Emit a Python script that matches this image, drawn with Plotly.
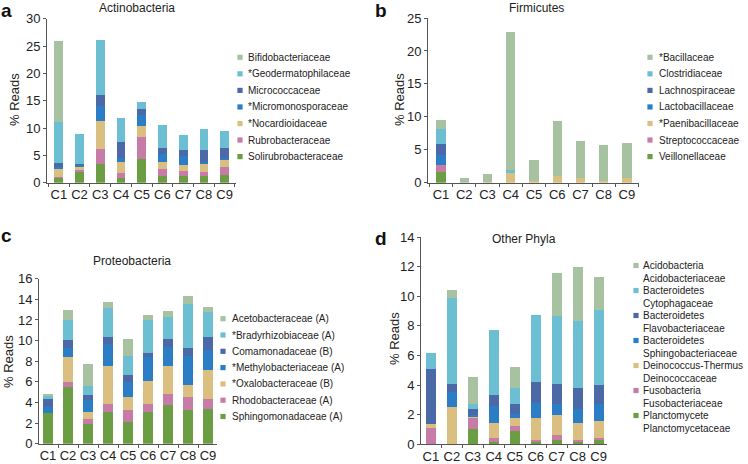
import plotly.graph_objects as go

W, H = 748, 464
categories = ["C1", "C2", "C3", "C4", "C5", "C6", "C7", "C8", "C9"]

# Stack order (bottom -> top) colours shared by all panels
series_colors = ["#6b9e42", "#c77ba7", "#dbbf80", "#2b7dc6", "#4a69a6", "#6cbfd3", "#a7c2a0"]

# ---- Panel a: Actinobacteria (segment heights, % reads)
actino_names = ["Solirubrobacteraceae", "Rubrobacteraceae", "*Nocardioidaceae",
                "*Micromonosporaceae", "Micrococcaceae", "*Geodermatophilaceae",
                "Bifidobacteriaceae"]
actino_solirubro = [1.0, 2.0, 3.4, 0.8, 4.4, 1.15, 1.15, 1.25, 1.35]
actino_rubro = [0.1, 0.4, 2.8, 1.0, 3.9, 1.35, 0.95, 0.75, 1.55]
actino_nocardioid = [1.6, 0.7, 5.0, 2.0, 2.1, 1.3, 1.1, 1.4, 1.4]
actino_micromono = [0.2, 0.2, 2.8, 0.8, 1.9, 1.4, 1.6, 0.4, 0.3]
actino_micrococc = [0.7, 0.2, 2.1, 2.8, 1.1, 1.2, 1.1, 2.2, 1.8]
actino_geoderm = [7.5, 5.5, 10.0, 4.5, 1.3, 4.2, 2.9, 3.9, 3.05]
actino_bifido = [14.9, 0, 0, 0, 0, 0, 0, 0, 0]

# ---- Panel b: Firmicutes
firm_names = ["Veillonellaceae", "Streptococcaceae", "*Paenibacillaceae",
              "Lactobacillaceae", "Lachnospiraceae", "Clostridiaceae", "*Bacillaceae"]
firm_veillonell = [1.65, 0, 0, 0, 0, 0, 0, 0, 0]
firm_strepto = [1.0, 0, 0, 0, 0, 0, 0, 0, 0]
firm_paenibac = [0, 0, 0.05, 1.4, 0.2, 1.0, 0.7, 0.3, 0.75]
firm_lactobac = [1.55, 0, 0, 0, 0, 0, 0, 0, 0]
firm_lachno = [1.6, 0, 0, 0, 0, 0, 0, 0, 0]
firm_clostri = [2.3, 0, 0, 0.5, 0, 0, 0, 0, 0]
firm_bacillac = [1.35, 0.7, 1.3, 20.9, 3.3, 8.4, 5.7, 5.35, 5.3]

# ---- Panel c: Proteobacteria
proteo_names = ["Sphingomonadaceae (A)", "Rhodobacteraceae (A)", "*Oxalobacteraceae (B)",
                "*Methylobacteriaceae (A)", "Comamonadaceae (B)", "*Bradyrhizobiaceae (A)",
                "Acetobacteraceae (A)"]
proteo_sphingo = [3.0, 5.5, 1.9, 3.05, 2.1, 3.1, 3.75, 3.3, 3.35]
proteo_rhodo = [0, 0.45, 0.5, 0.8, 1.2, 0.75, 1.1, 1.2, 1.0]
proteo_oxalo = [0, 2.5, 0.7, 3.7, 1.25, 2.2, 2.7, 1.2, 2.8]
proteo_methylo = [0.6, 0.85, 1.1, 2.1, 1.45, 2.35, 1.8, 2.85, 1.95]
proteo_comamon = [0.7, 0.8, 0.5, 0.7, 0.7, 0.4, 0.8, 0.75, 1.2]
proteo_bradyrh = [0.4, 1.9, 0.9, 2.85, 1.8, 3.15, 2.15, 4.2, 2.5]
proteo_acetobac = [0.15, 0.95, 2.15, 0.5, 1.65, 0.55, 0.55, 0.85, 0.5]

# ---- Panel d: Other Phyla
other_names = [["Planctomycete", "Planctomycetaceae"], ["Fusobacteria", "Fusobacteriaceae"],
               ["Deinococcus-Thermus", "Deinococcaceae"], ["Bacteroidetes", "Sphingobacteriaceae"],
               ["Bacteroidetes", "Flavobacteriaceae"], ["Bacteroidetes", "Cytophagaceae"],
               ["Acidobacteria", "Acidobacteriaceae"]]
other_plancto = [0, 0, 1.0, 0.15, 0.9, 0.15, 0.3, 0.15, 0.3]
other_fuso = [1.1, 0.05, 0.75, 0.25, 0.35, 0.15, 0.3, 0.15, 0.1]
other_deino = [0.3, 2.5, 0.15, 1.05, 0.55, 1.45, 1.35, 1.15, 1.15]
other_sphingobact = [0, 0.95, 0.1, 1.15, 0.25, 1.05, 0.75, 0.95, 1.15]
other_flavo = [3.7, 0.55, 0.4, 0.7, 0.7, 1.4, 1.4, 1.4, 1.3]
other_cytophag = [1.1, 5.8, 0.35, 4.4, 1.05, 4.5, 4.55, 4.55, 5.1]
other_acido = [0, 0.6, 1.8, 0, 1.4, 0, 2.95, 3.65, 2.2]

panels = [
    dict(ax="", title="Actinobacteria", letter="a", names=actino_names,
         series=[actino_solirubro, actino_rubro, actino_nocardioid, actino_micromono,
                 actino_micrococc, actino_geoderm, actino_bifido],
         yrange=[0, 30], dtick=5, xrange=[-0.57, 8.55], barw=0.42,
         xdom=(47, 236), ydom=(182.7, 18.7)),
    dict(ax="2", title="Firmicutes", letter="b", names=firm_names,
         series=[firm_veillonell, firm_strepto, firm_paenibac, firm_lactobac,
                 firm_lachno, firm_clostri, firm_bacillac],
         yrange=[0, 25], dtick=5, xrange=[-0.56, 8.52], barw=0.40,
         xdom=(428, 639), ydom=(182.7, 18.0)),
    dict(ax="3", title="Proteobacteria", letter="c", names=proteo_names,
         series=[proteo_sphingo, proteo_rhodo, proteo_oxalo, proteo_methylo,
                 proteo_comamon, proteo_bradyrh, proteo_acetobac],
         yrange=[0, 16], dtick=2, xrange=[-0.45, 8.45], barw=0.46,
         xdom=(39, 217), ydom=(443.7, 278.7)),
    dict(ax="4", title="Other Phyla", letter="d", names=other_names,
         series=[other_plancto, other_fuso, other_deino, other_sphingobact,
                 other_flavo, other_cytophag, other_acido],
         yrange=[0, 14], dtick=2, xrange=[-0.47, 8.4], barw=0.47,
         xdom=(421, 607), ydom=(444.3, 237.0)),
]


def px(x):
    return x / W


def py(y):
    return 1 - y / H


FONT = "Liberation Sans, Arial, sans-serif"
TXT = "#222222"
AXC = "#555555"

fig = go.Figure()
layout = dict(width=W, height=H, margin=dict(l=0, r=0, t=0, b=0),
              paper_bgcolor="white", plot_bgcolor="white", barmode="stack",
              showlegend=False, font=dict(family=FONT, color=TXT))
annotations = []
shapes = []

for p in panels:
    xa, ya = "x" + p["ax"], "y" + p["ax"]
    for name, vals, col in zip(p["names"], p["series"], series_colors):
        label = name if isinstance(name, str) else " ".join(name)
        fig.add_trace(go.Bar(x=categories, y=vals, name=label, xaxis=xa, yaxis=ya,
                             marker=dict(color=col, line=dict(width=0)),
                             width=p["barw"], hovertemplate="%{x}: %{y}<extra>" + label + "</extra>"))
    layout["xaxis" + p["ax"]] = dict(
        domain=[px(p["xdom"][0]), px(p["xdom"][1])], anchor=ya, range=p["xrange"],
        showline=True, linecolor=AXC, linewidth=1, ticks="outside", ticklen=3,
        tickcolor=AXC, tickson="boundaries", showgrid=False, zeroline=False,
        tickangle=0, automargin=False,
        tickfont=dict(size=13, color=TXT, family=FONT), fixedrange=True)
    layout["yaxis" + p["ax"]] = dict(
        domain=[py(p["ydom"][0]), py(p["ydom"][1])], anchor=xa, range=p["yrange"],
        dtick=p["dtick"], showline=True, linecolor=AXC, linewidth=1, ticks="outside",
        ticklen=3, tickcolor=AXC, showgrid=False, zeroline=False, automargin=False,
        tickfont=dict(size=13, color=TXT, family=FONT), fixedrange=True)

# Titles, letters, y-axis titles
for text, x, y in [("Actinobacteria", 137, 8), ("Firmicutes", 536, 8),
                   ("Proteobacteria", 132, 261), ("Other Phyla", 524, 239)]:
    annotations.append(dict(text=text, x=px(x), y=py(y), xref="paper", yref="paper",
                            showarrow=False, xanchor="center", yanchor="middle",
                            font=dict(size=12, color=TXT)))
for text, x, y in [("a", 7, 10), ("b", 381, 10), ("c", 6, 236), ("d", 381, 238)]:
    annotations.append(dict(text="<b>" + text + "</b>", x=px(x), y=py(y), xref="paper",
                            yref="paper", showarrow=False, xanchor="center",
                            yanchor="middle", font=dict(size=19, color="#111111")))
for x, y in [(15, 100), (400, 100), (8, 362), (394, 339)]:
    annotations.append(dict(text="% Reads", x=px(x), y=py(y), xref="paper", yref="paper",
                            showarrow=False, textangle=-90, xanchor="center",
                            yanchor="middle", font=dict(size=13, color=TXT)))

# Legends (top-to-bottom = reverse of stack order)
legend_pos = [
    dict(mx=240, tx=246, y0=57.3, dy=16.55, ldy=0),
    dict(mx=650, tx=657, y0=57.3, dy=16.55, ldy=0),
    dict(mx=223, tx=230, y0=318.7, dy=16.3, ldy=0),
    dict(mx=636, tx=641, y0=265.5, dy=25.0, ldy=12.5),
]
for p, lp in zip(panels, legend_pos):
    items = list(zip(p["names"], series_colors))[::-1]
    for i, (name, col) in enumerate(items):
        yc = lp["y0"] + i * lp["dy"]
        s = 2.6
        shapes.append(dict(type="rect", xref="paper", yref="paper",
                           x0=px(lp["mx"] - s), x1=px(lp["mx"] + s),
                           y0=py(yc + s), y1=py(yc - s), fillcolor=col,
                           line=dict(width=0)))
        lines = [name] if isinstance(name, str) else name
        for j, ln in enumerate(lines):
            annotations.append(dict(text=ln, x=px(lp["tx"]), y=py(yc + j * lp["ldy"]),
                                    xref="paper", yref="paper", showarrow=False,
                                    xanchor="left", yanchor="middle",
                                    font=dict(size=10, color=TXT)))

layout["annotations"] = annotations
layout["shapes"] = shapes
fig.update_layout(**layout)
fig.write_html("out.html", config={"displayModeBar": False},
               post_script="document.body.style.margin='0';document.body.style.overflow='hidden';")
